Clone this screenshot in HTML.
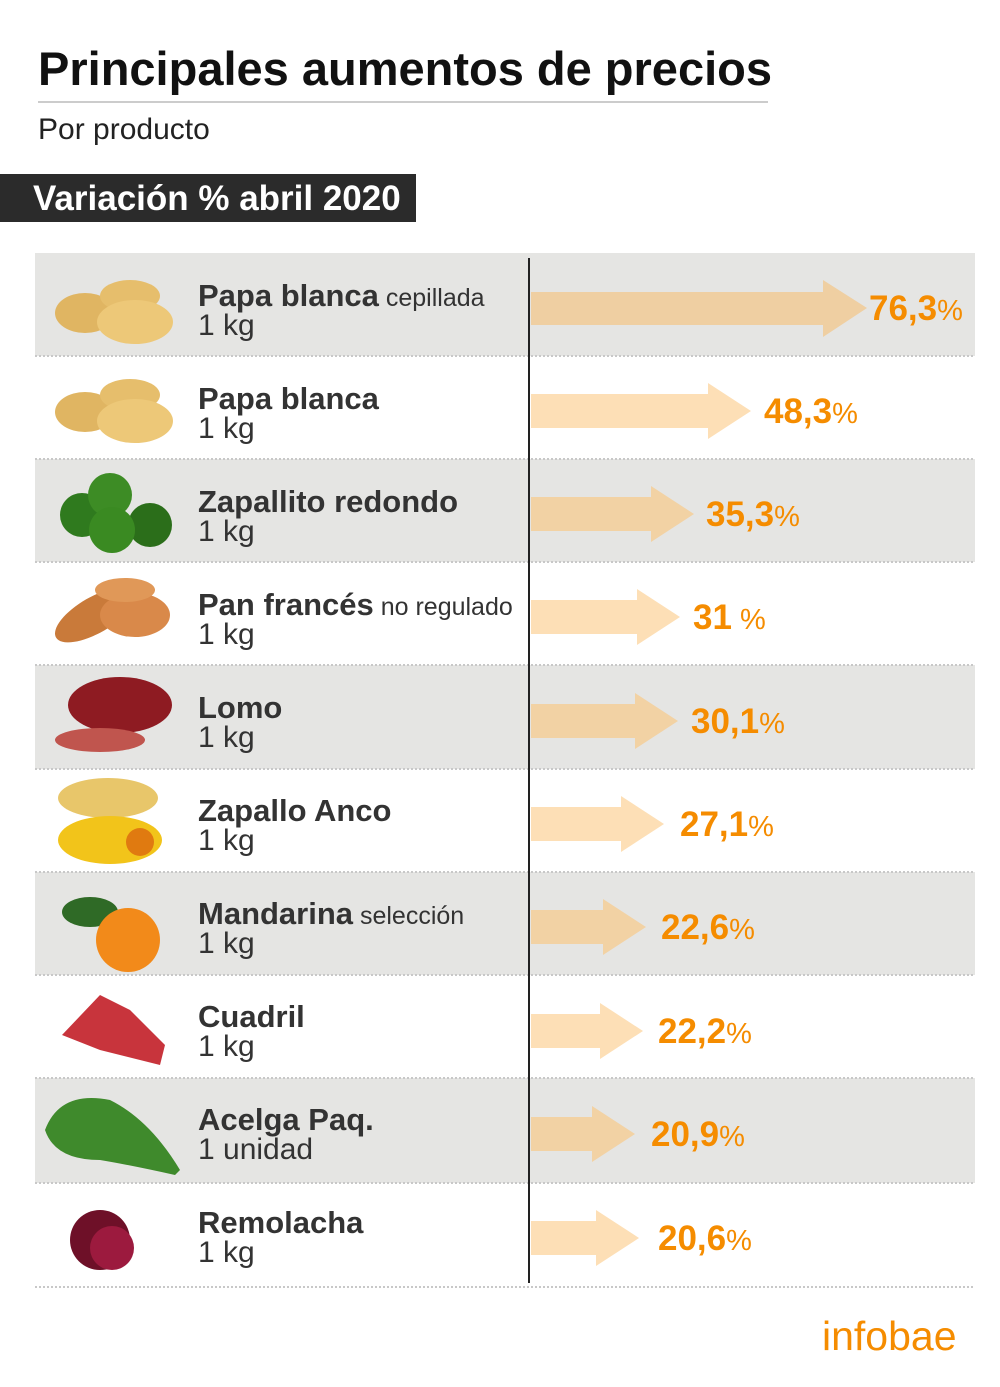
<!DOCTYPE html>
<html><head><meta charset="utf-8"><style>
html,body{margin:0;padding:0;background:#fff;}
svg{display:block;font-family:"Liberation Sans",sans-serif;}
</style></head><body>
<svg width="1000" height="1387" viewBox="0 0 1000 1387">
<text x="38" y="85" font-size="47" font-weight="bold" fill="#111">Principales aumentos de precios</text>
<line x1="38" y1="102" x2="768" y2="102" stroke="#ccc" stroke-width="2"/>
<text x="38" y="139" font-size="30" fill="#222">Por producto</text>
<rect x="0" y="174" width="416" height="48" fill="#2b2b2b"/>
<text x="33" y="210" font-size="35" font-weight="bold" fill="#fff">Variación % abril 2020</text>

<g id="rows">
<rect x="35" y="253" width="940" height="103" fill="#e5e5e3"/>
<rect x="35" y="459" width="940" height="103" fill="#e5e5e3"/>
<rect x="35" y="665" width="940" height="104" fill="#e5e5e3"/>
<rect x="35" y="872" width="940" height="103" fill="#e5e5e3"/>
<rect x="35" y="1078" width="940" height="105" fill="#e5e5e3"/>
<g stroke="#c8c8c8" stroke-width="2" stroke-dasharray="2,2">
<line x1="35" y1="356" x2="975" y2="356"/><line x1="35" y1="459" x2="975" y2="459"/>
<line x1="35" y1="562" x2="975" y2="562"/><line x1="35" y1="665" x2="975" y2="665"/>
<line x1="35" y1="769" x2="975" y2="769"/><line x1="35" y1="872" x2="975" y2="872"/>
<line x1="35" y1="975" x2="975" y2="975"/><line x1="35" y1="1078" x2="975" y2="1078"/>
<line x1="35" y1="1183" x2="975" y2="1183"/><line x1="35" y1="1287" x2="975" y2="1287"/>
</g>
</g>

<g>
<polygon points="531,292 823,292 823,280 867,308 823,337 823,325 531,325" fill="#efcfa2"/>
<polygon points="531,394 708,394 708,383 751,411 708,439 708,428 531,428" fill="#fddfb6"/>
<polygon points="531,497 651,497 651,486 694,514 651,542 651,531 531,531" fill="#f2d2a4"/>
<polygon points="531,600 637,600 637,589 680,617 637,645 637,634 531,634" fill="#fddfb6"/>
<polygon points="531,704 635,704 635,693 678,721 635,749 635,738 531,738" fill="#f2d2a4"/>
<polygon points="531,807 621,807 621,796 664,824 621,852 621,841 531,841" fill="#fddfb6"/>
<polygon points="531,910 603,910 603,899 646,927 603,955 603,944 531,944" fill="#f2d2a4"/>
<polygon points="531,1014 600,1014 600,1003 643,1031 600,1059 600,1048 531,1048" fill="#fddfb6"/>
<polygon points="531,1117 592,1117 592,1106 635,1134 592,1162 592,1151 531,1151" fill="#f2d2a4"/>
<polygon points="531,1221 596,1221 596,1210 639,1238 596,1266 596,1255 531,1255" fill="#fddfb6"/>
</g>
<line x1="529" y1="258" x2="529" y2="1283" stroke="#222" stroke-width="2"/>

<g fill="#f58c00" font-weight="bold" font-size="35">
<text x="869" y="320">76,3<tspan font-weight="normal" font-size="29">%</tspan></text>
<text x="764" y="423">48,3<tspan font-weight="normal" font-size="29">%</tspan></text>
<text x="706" y="526">35,3<tspan font-weight="normal" font-size="29">%</tspan></text>
<text x="693" y="629">31<tspan font-weight="normal" font-size="29"> %</tspan></text>
<text x="691" y="733">30,1<tspan font-weight="normal" font-size="29">%</tspan></text>
<text x="680" y="836">27,1<tspan font-weight="normal" font-size="29">%</tspan></text>
<text x="661" y="939">22,6<tspan font-weight="normal" font-size="29">%</tspan></text>
<text x="658" y="1043">22,2<tspan font-weight="normal" font-size="29">%</tspan></text>
<text x="651" y="1146">20,9<tspan font-weight="normal" font-size="29">%</tspan></text>
<text x="658" y="1250">20,6<tspan font-weight="normal" font-size="29">%</tspan></text>
</g>

<g fill="#333" font-size="30">
<text x="198" y="306"><tspan font-weight="bold" font-size="31">Papa blanca</tspan><tspan font-size="25"> cepillada</tspan></text><text x="198" y="335">1 kg</text>
<text x="198" y="409" font-weight="bold" font-size="31">Papa blanca</text><text x="198" y="438">1 kg</text>
<text x="198" y="512" font-weight="bold" font-size="31">Zapallito redondo</text><text x="198" y="541">1 kg</text>
<text x="198" y="615"><tspan font-weight="bold" font-size="31">Pan francés</tspan><tspan font-size="25"> no regulado</tspan></text><text x="198" y="644">1 kg</text>
<text x="198" y="718" font-weight="bold" font-size="31">Lomo</text><text x="198" y="747">1 kg</text>
<text x="198" y="821" font-weight="bold" font-size="31">Zapallo Anco</text><text x="198" y="850">1 kg</text>
<text x="198" y="924"><tspan font-weight="bold" font-size="31">Mandarina</tspan><tspan font-size="25"> selección</tspan></text><text x="198" y="953">1 kg</text>
<text x="198" y="1027" font-weight="bold" font-size="31">Cuadril</text><text x="198" y="1056">1 kg</text>
<text x="198" y="1130" font-weight="bold" font-size="31">Acelga Paq.</text><text x="198" y="1159">1 unidad</text>
<text x="198" y="1233" font-weight="bold" font-size="31">Remolacha</text><text x="198" y="1262">1 kg</text>
</g>

<g>
<ellipse cx="85" cy="313" rx="30" ry="20" fill="#e0b562"/><ellipse cx="130" cy="296" rx="30" ry="16" fill="#e6be6c"/><ellipse cx="135" cy="322" rx="38" ry="22" fill="#edc878"/>
<ellipse cx="85" cy="412" rx="30" ry="20" fill="#e0b562"/><ellipse cx="130" cy="395" rx="30" ry="16" fill="#e6be6c"/><ellipse cx="135" cy="421" rx="38" ry="22" fill="#edc878"/>
<circle cx="82" cy="515" r="22" fill="#2f7a1e"/><circle cx="110" cy="495" r="22" fill="#3d8c25"/><circle cx="150" cy="525" r="22" fill="#2b6e1a"/><circle cx="112" cy="530" r="23" fill="#3a8a22"/>
<ellipse cx="95" cy="615" rx="45" ry="18" fill="#c97a3a" transform="rotate(-30 95 615)"/><ellipse cx="135" cy="615" rx="35" ry="22" fill="#d9894a"/><ellipse cx="125" cy="590" rx="30" ry="12" fill="#e09858"/>
<ellipse cx="120" cy="705" rx="52" ry="28" fill="#8e1b22"/><ellipse cx="100" cy="740" rx="45" ry="12" fill="#c0554e"/>
<ellipse cx="108" cy="798" rx="50" ry="20" fill="#e8c66a"/><ellipse cx="110" cy="840" rx="52" ry="24" fill="#f2c41a"/><circle cx="140" cy="842" r="14" fill="#e07a10"/>
<ellipse cx="90" cy="912" rx="28" ry="15" fill="#2f6a26"/><circle cx="128" cy="940" r="32" fill="#f28a1a"/>
<path d="M62,1035 L100,995 L130,1010 L165,1045 L160,1065 L100,1050 Z" fill="#c8343c"/>
<path d="M45,1130 Q60,1090 110,1100 Q150,1120 180,1170 L175,1175 Q130,1165 100,1160 Q55,1160 45,1130Z" fill="#3f8a2c"/>
<circle cx="100" cy="1240" r="30" fill="#6e1028"/><circle cx="112" cy="1248" r="22" fill="#9c1a3e"/>
</g>

<text x="822" y="1350" font-size="41" fill="#f58c00">infobae</text>
</svg>
</body></html>
